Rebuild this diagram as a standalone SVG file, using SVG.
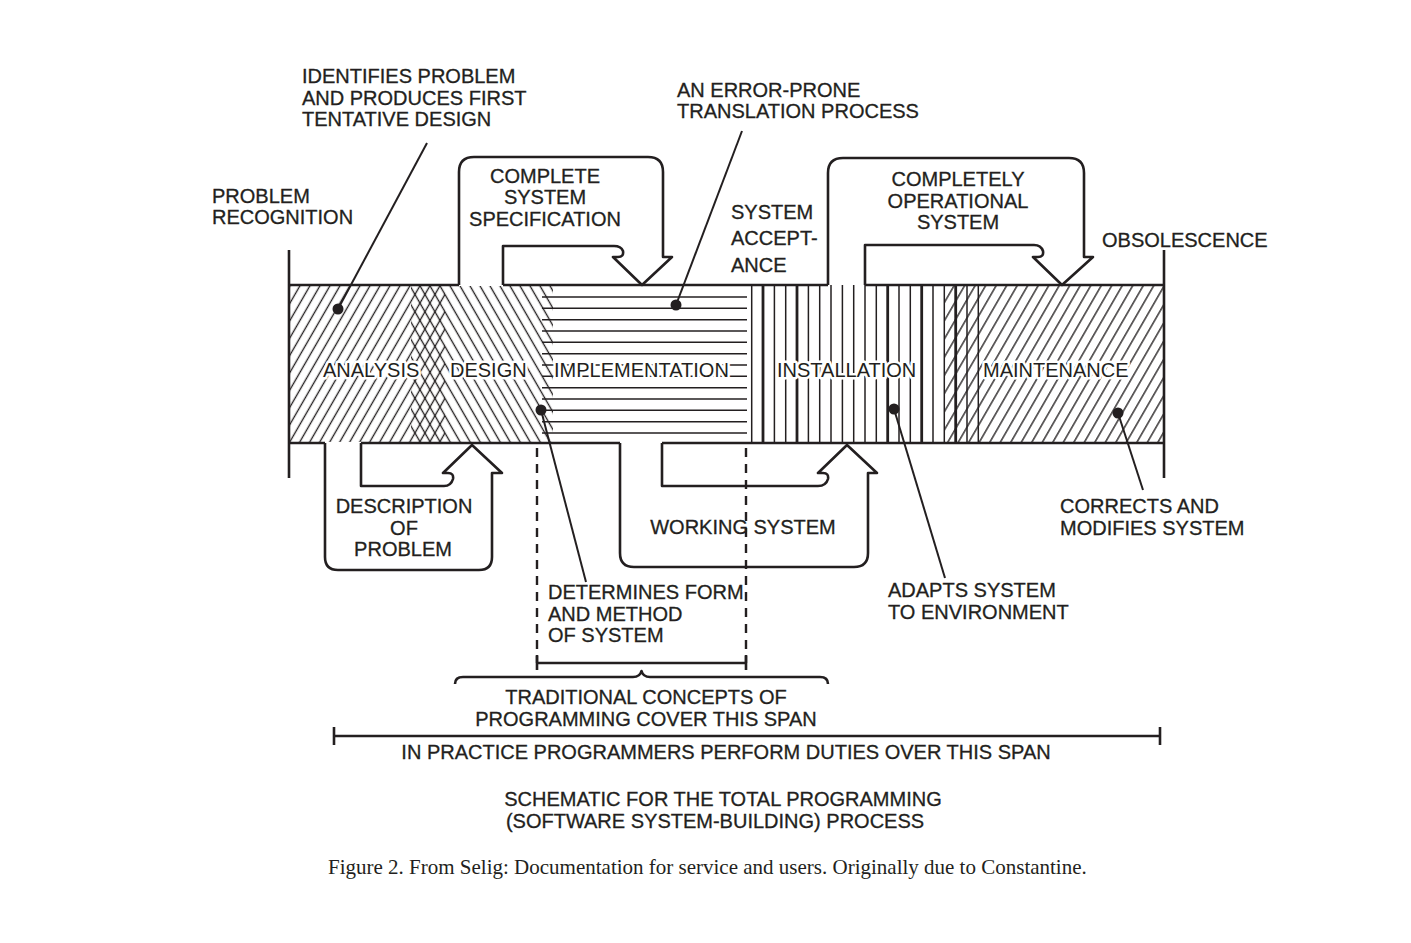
<svg xmlns="http://www.w3.org/2000/svg" width="1411" height="943" viewBox="0 0 1411 943">
<style>
.t{font-family:"Liberation Sans",Arial,sans-serif;font-size:20px;fill:#231f20;stroke:#231f20;stroke-width:0.3}
.c{text-anchor:middle}
.lbl{stroke:#fff;stroke-width:5;paint-order:stroke;stroke-linejoin:round}
.ol{fill:none;stroke:#231f20;stroke-width:2.6;stroke-linejoin:round}
.h{stroke:#231f20;stroke-width:1.5}
.hk{stroke:#231f20;stroke-width:2.8}
.ld{stroke:#231f20;stroke-width:2;fill:none}
.dot{fill:#231f20}
.dash{stroke:#231f20;stroke-width:2.4;stroke-dasharray:9 7;fill:none}
.cap{font-family:"Liberation Serif","Times New Roman",serif;font-size:21px;fill:#231f20}
</style>
<defs>
<pattern id="fwd" width="8.66" height="20" patternUnits="userSpaceOnUse" patternTransform="rotate(30)"><line x1="4.3" y1="-2" x2="4.3" y2="22" stroke="#231f20" stroke-width="1.35"/></pattern>
<pattern id="bwd" width="8.66" height="20" patternUnits="userSpaceOnUse" patternTransform="rotate(-30)"><line x1="4.3" y1="-2" x2="4.3" y2="22" stroke="#231f20" stroke-width="1.35"/></pattern>
<pattern id="fwd2" width="9.1" height="20" patternUnits="userSpaceOnUse" patternTransform="rotate(30)"><line x1="4.5" y1="-2" x2="4.5" y2="22" stroke="#231f20" stroke-width="1.35"/></pattern>
</defs>
<rect width="1411" height="943" fill="#fff"/>

<g id="band">
<rect x="289" y="286" width="156" height="156" fill="url(#fwd)"/>
<rect x="411" y="286" width="142" height="156" fill="url(#bwd)"/>
<rect x="944" y="286" width="220" height="156" fill="url(#fwd2)"/>
<g id="impl-lines">
<line class="h" x1="542" y1="297" x2="747" y2="297"/>
<line class="h" x1="542" y1="308.3" x2="747" y2="308.3"/>
<line class="h" x1="542" y1="319.7" x2="747" y2="319.7"/>
<line class="h" x1="542" y1="331" x2="747" y2="331"/>
<line class="h" x1="542" y1="342.3" x2="747" y2="342.3"/>
<line class="h" x1="542" y1="353.7" x2="747" y2="353.7"/>
<line class="h" x1="542" y1="365" x2="747" y2="365"/>
<line class="h" x1="542" y1="376.3" x2="747" y2="376.3"/>
<line class="h" x1="542" y1="387.7" x2="747" y2="387.7"/>
<line class="h" x1="542" y1="399" x2="747" y2="399"/>
<line class="h" x1="542" y1="410.3" x2="747" y2="410.3"/>
<line class="h" x1="542" y1="421.7" x2="747" y2="421.7"/>
<line class="h" x1="542" y1="433" x2="747" y2="433"/>
</g>
<g id="install-lines">
<line class="h" x1="751.7" y1="285" x2="751.7" y2="443"/>
<line class="hk" x1="763" y1="285" x2="763" y2="443"/>
<line class="h" x1="774.4" y1="285" x2="774.4" y2="443"/>
<line class="h" x1="785.7" y1="285" x2="785.7" y2="443"/>
<line class="hk" x1="797" y1="285" x2="797" y2="443"/>
<line class="h" x1="808.4" y1="285" x2="808.4" y2="443"/>
<line class="h" x1="819.7" y1="285" x2="819.7" y2="443"/>
<line class="h" x1="831" y1="285" x2="831" y2="443"/>
<line class="h" x1="842.4" y1="285" x2="842.4" y2="443"/>
<line class="h" x1="853.7" y1="285" x2="853.7" y2="443"/>
<line class="h" x1="865" y1="285" x2="865" y2="443"/>
<line class="h" x1="876.3" y1="285" x2="876.3" y2="443"/>
<line class="hk" x1="887.7" y1="285" x2="887.7" y2="443"/>
<line class="h" x1="899" y1="285" x2="899" y2="443"/>
<line class="h" x1="910.3" y1="285" x2="910.3" y2="443"/>
<line class="hk" x1="921.7" y1="285" x2="921.7" y2="443"/>
<line class="h" x1="933" y1="285" x2="933" y2="443"/>
<line class="h" x1="944.3" y1="285" x2="944.3" y2="443"/>
<line class="hk" x1="955.7" y1="285" x2="955.7" y2="443"/>
<line class="h" x1="967" y1="285" x2="967" y2="443"/>
<line class="h" x1="978.3" y1="285" x2="978.3" y2="443"/>
</g>
<path class="ol" d="M289,285 H459 M503,285 H828 M865,285 H1164 M289,443 H325 M361,443 H620 M662,443 H1164 M289,250 V478 M1164,250 V478"/>
</g>

<g id="phase-labels">
<text class="t lbl" x="323" y="377">ANALYSIS</text>
<text class="t lbl" x="450" y="377">DESIGN</text>
<text class="t lbl" x="554" y="377">IMPLEMENTATION</text>
<text class="t lbl" x="777" y="377">INSTALLATION</text>
<text class="t lbl" x="983" y="377">MAINTENANCE</text>
</g>

<g id="arrow-spec">
<path class="ol" d="M459,285 V172 Q459,157 474,157 H648 Q663,157 663,172 V257 H672 L642,285 L613,257 H618 Q624,257 623,251 Q621,246 614,246 H503 V285"/>
<text class="t c" x="545" y="183">COMPLETE</text>
<text class="t c" x="545" y="204">SYSTEM</text>
<text class="t c" x="545" y="226">SPECIFICATION</text>
</g>

<g id="arrow-operational">
<path class="ol" d="M828,285 V173 Q828,158 843,158 H1069 Q1084,158 1084,173 V257 H1093 L1062,285 L1033,257 H1038 Q1044,257 1043,251 Q1041,245 1034,245 H865 V285"/>
<text class="t c" x="958" y="186">COMPLETELY</text>
<text class="t c" x="958" y="208">OPERATIONAL</text>
<text class="t c" x="958" y="229">SYSTEM</text>
</g>

<g id="arrow-description">
<path class="ol" d="M325,443 V557 Q325,570 338,570 H479 Q492,570 492,557 V473 H502 L472,445 L443,473 H448 Q454,473 453,479 Q451,486 444,486 H361 V443"/>
<text class="t c" x="404" y="513">DESCRIPTION</text>
<text class="t c" x="404" y="535">OF</text>
<text class="t c" x="403" y="556">PROBLEM</text>
</g>

<g id="arrow-working">
<path class="ol" d="M620,443 V553 Q620,567 634,567 H854 Q868,567 868,553 V473 H877 L847,445 L818,473 H823 Q829,473 828,479 Q826,486 818,486 H662 V443"/>
</g>

<g id="span-markers">
<path class="dash" d="M537,448 V663 M746,448 V663"/>
<path class="ol" d="M537,655 V670 M537,663 H746 M746,655 V670"/>
<path class="ol" d="M455,684 Q455,677 463,677 H633 Q640,677 641.5,671 Q643,677 650,677 H820 Q828,677 828,684"/>
<path class="ol" d="M334,727 V745 M334,736 H1160 M1160,727 V745"/>
</g>

<g id="working-label">
<text class="t c" x="743" y="534">WORKING SYSTEM</text>
</g>

<g id="connectors">
<line class="ld" x1="427" y1="143" x2="338" y2="309"/>
<circle class="dot" cx="338" cy="309" r="5.5"/>
<line class="ld" x1="742" y1="131" x2="676" y2="305"/>
<circle class="dot" cx="676" cy="305" r="5.5"/>
<line class="ld" x1="541" y1="410" x2="586" y2="582"/>
<circle class="dot" cx="541" cy="410" r="5.5"/>
<line class="ld" x1="894" y1="409" x2="945" y2="578"/>
<circle class="dot" cx="894" cy="409" r="5.5"/>
<line class="ld" x1="1118" y1="413" x2="1143" y2="490"/>
<circle class="dot" cx="1118" cy="413" r="5.5"/>
</g>

<g id="annotations">
<text class="t" x="302" y="83">IDENTIFIES PROBLEM</text>
<text class="t" x="302" y="105">AND PRODUCES FIRST</text>
<text class="t" x="302" y="126">TENTATIVE DESIGN</text>
<text class="t" x="212" y="203">PROBLEM</text>
<text class="t" x="212" y="224">RECOGNITION</text>
<text class="t" x="677" y="97">AN ERROR-PRONE</text>
<text class="t" x="677" y="118">TRANSLATION PROCESS</text>
<text class="t" x="731" y="219">SYSTEM</text>
<text class="t" x="731" y="245">ACCEPT-</text>
<text class="t" x="731" y="272">ANCE</text>
<text class="t" x="1102" y="247">OBSOLESCENCE</text>
<text class="t" x="1060" y="513">CORRECTS AND</text>
<text class="t" x="1060" y="535">MODIFIES SYSTEM</text>
<text class="t" x="888" y="597">ADAPTS SYSTEM</text>
<text class="t" x="888" y="619">TO ENVIRONMENT</text>
<text class="t" x="548" y="599">DETERMINES FORM</text>
<text class="t" x="548" y="621">AND METHOD</text>
<text class="t" x="548" y="642">OF SYSTEM</text>
<text class="t c" x="646" y="704">TRADITIONAL CONCEPTS OF</text>
<text class="t c" x="646" y="726">PROGRAMMING COVER THIS SPAN</text>
<text class="t c" x="726" y="759">IN PRACTICE PROGRAMMERS PERFORM DUTIES OVER THIS SPAN</text>
<text class="t c" x="723" y="806">SCHEMATIC FOR THE TOTAL PROGRAMMING</text>
<text class="t c" x="715" y="828">(SOFTWARE SYSTEM-BUILDING) PROCESS</text>
<text class="cap" x="328" y="874">Figure 2. From Selig: Documentation for service and users. Originally due to Constantine.</text>
</g>
</svg>
